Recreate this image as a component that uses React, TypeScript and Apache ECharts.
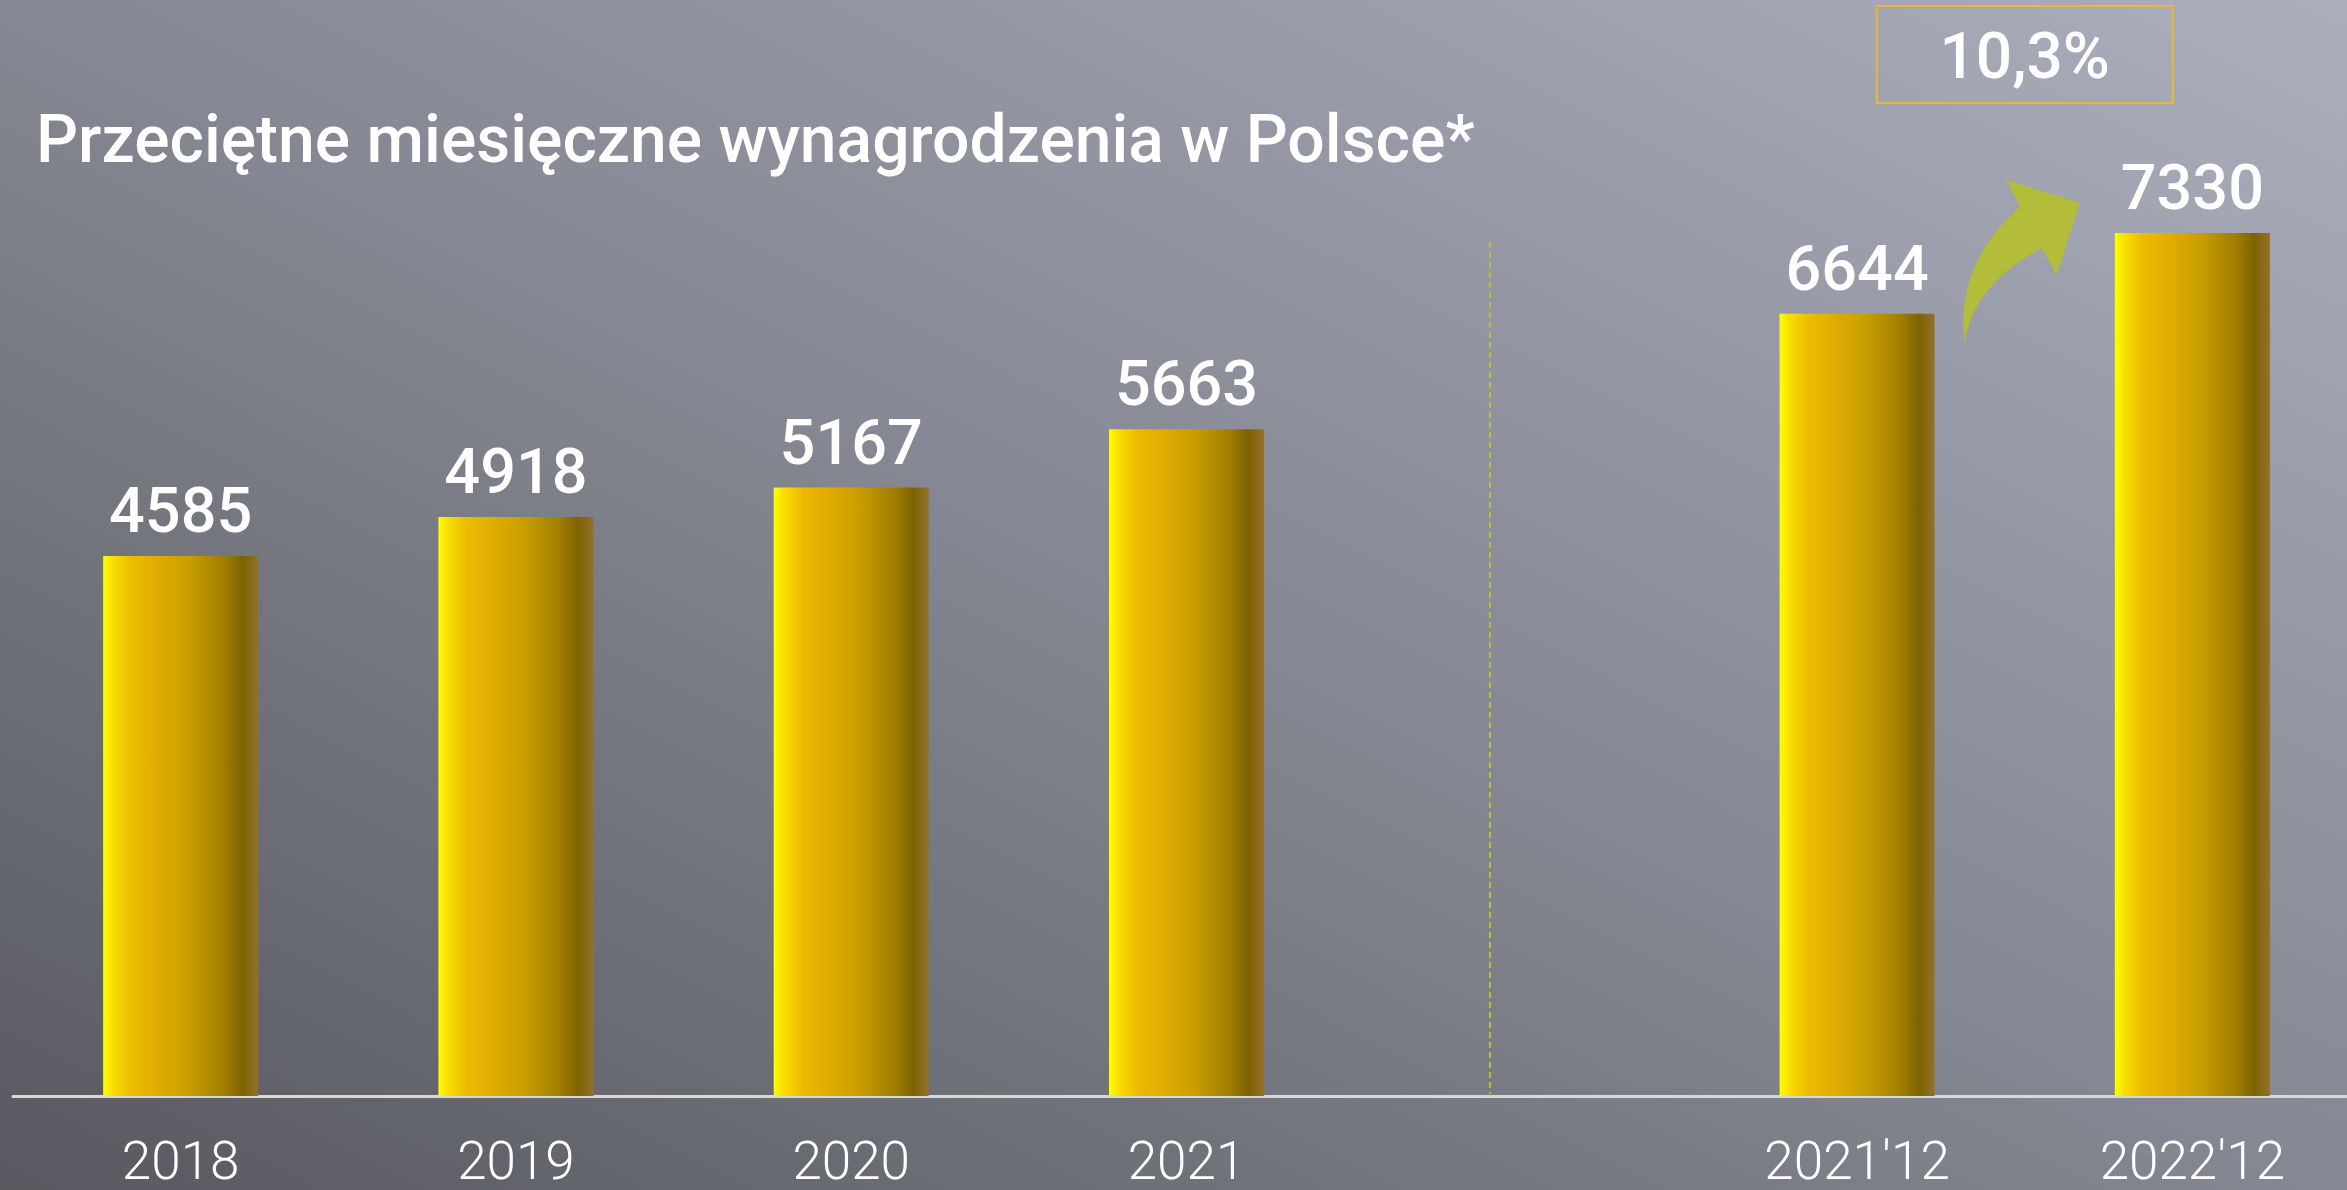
import React, { useEffect, useRef } from 'react';
import * as echarts from 'echarts';

const titleText = 'Przeciętne miesięczne wynagrodzenia w Polsce*';
const categories = ['2018', '2019', '2020', '2021', '', "2021'12", "2022'12"];
const values: (number | string)[] = [4585, 4918, 5167, 5663, '-', 6644, 7330];
const growthLabel = '10,3%';

const arrowPath =
  'M-60 343 C-66 300 -54 250 -5 207 L-18 180 L55 203 L32 275 L17 248 C-24 270 -54 300 -60 343 Z';

const FONT = 'Roboto, "Noto Sans", sans-serif';

export default function App() {
  const ref = useRef<HTMLDivElement>(null);
  useEffect(() => {
    document.body.style.margin = '0';
    const ArrowShape = echarts.graphic.extendPath(arrowPath, {});
    echarts.graphic.registerShape('growthArrow', ArrowShape);
    const chart = echarts.init(ref.current!, null, { renderer: 'svg' });
    const barGradient = new echarts.graphic.LinearGradient(0, 0, 1, 0, [
      { offset: 0, color: '#ffff00' },
      { offset: 0.06, color: '#f8e000' },
      { offset: 0.18, color: '#ecbc00' },
      { offset: 0.3, color: '#e6b000' },
      { offset: 0.55, color: '#c99e00' },
      { offset: 0.78, color: '#a07e00' },
      { offset: 0.9, color: '#7d6300' },
      { offset: 1, color: '#94702a' },
    ]);
    chart.setOption({
      animation: false,
      backgroundColor: new echarts.graphic.LinearGradient(0, 1, 1, 0, [
        { offset: 0, color: '#58595f' },
        { offset: 0.5, color: '#858892' },
        { offset: 1, color: '#abaebc' },
      ]),
      grid: {
        left: 13,
        width: 2347,
        top: 154,
        bottom: 94,
        containLabel: false,
        outerBoundsMode: 'none',
      },
      xAxis: {
        type: 'category',
        data: categories,
        axisLine: { show: true, lineStyle: { color: '#d8d8d8', width: 3 } },
        axisTick: { show: false },
        axisLabel: {
          color: '#ffffff',
          fontSize: 53,
          fontWeight: 300,
          fontFamily: FONT,
          margin: 38,
        },
      },
      yAxis: {
        type: 'value',
        min: 0,
        max: 8000,
        show: false,
        splitLine: { show: false },
      },
      series: [
        {
          type: 'bar',
          data: values,
          barWidth: 155,
          itemStyle: { color: barGradient },
          label: {
            show: true,
            position: 'top',
            distance: 14,
            color: '#ffffff',
            fontSize: 63,
            fontWeight: 500,
            fontFamily: FONT,
          },
        },
      ],
    });

    const px = (cat: string) => chart.convertToPixel({ xAxisIndex: 0 }, cat) as number;
    const p3 = px(categories[3]);
    const p4 = chart.convertToPixel({ xAxisIndex: 0 }, 4) as number;
    const p5 = px(categories[5]);
    const p6 = px(categories[6]);
    const baseY = chart.convertToPixel({ yAxisIndex: 0 }, 0) as number;
    const divX = p3 + (p4 - p3) * 0.905;
    const mid = (p5 + p6) / 2;

    chart.setOption({
      graphic: [
        {
          type: 'text',
          left: 36,
          top: 106,
          style: {
            text: titleText,
            fill: '#ffffff',
            fontSize: 66,
            fontWeight: 500,
            fontFamily: FONT,
          },
        },
        {
          type: 'line',
          shape: { x1: divX, y1: 242, x2: divX, y2: baseY - 2 },
          style: { stroke: '#b8c03a', lineWidth: 2, lineDash: [6, 4] },
        },
        {
          type: 'rect',
          shape: { x: mid - 148, y: 6, width: 296, height: 97 },
          style: { fill: 'none', stroke: '#e8b83a', lineWidth: 2 },
        },
        {
          type: 'text',
          x: mid,
          y: 56,
          style: {
            text: growthLabel,
            fill: '#ffffff',
            fontSize: 64,
            fontWeight: 500,
            fontFamily: FONT,
            align: 'center',
            verticalAlign: 'middle',
          },
        },
        {
          type: 'growthArrow',
          x: mid,
          y: 0,
          style: { fill: '#b3bd3a' },
        },
      ],
    });

    return () => chart.dispose();
  }, []);
  return (
    <div
      ref={ref}
      style={{ position: 'fixed', left: 0, top: 0, width: 2347, height: 1190 }}
    />
  );
}
